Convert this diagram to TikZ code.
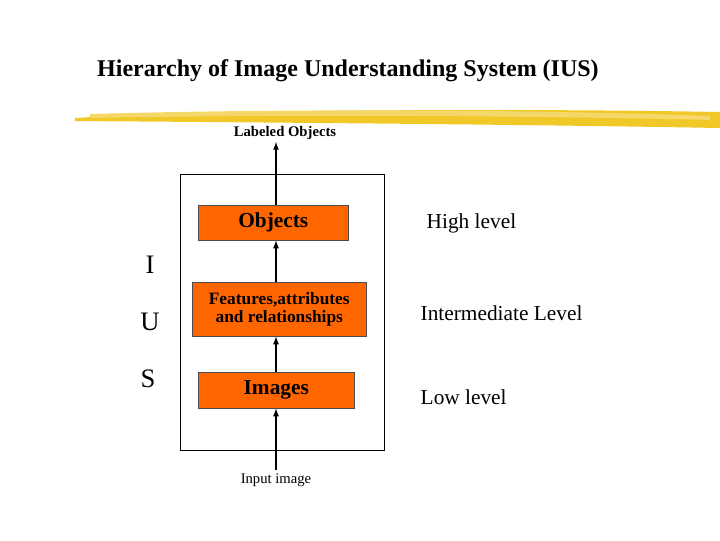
\documentclass[tikz,border=0pt]{standalone}
\usepackage{fontspec}
\setmainfont{Liberation Serif}
\definecolor{orng}{RGB}{255,102,0}
\definecolor{ylw}{RGB}{240,200,40}
\begin{document}
\begin{tikzpicture}[x=0.75pt,y=-0.75pt,
  lvl/.style={draw=black!70,fill=orng,inner sep=0pt,anchor=north west,font=\bfseries},
  side/.style={anchor=west,font=\fontsize{16}{18}\selectfont},
  ius/.style={font=\fontsize{20}{22}\selectfont},
  arr/.style={-latex,line width=1pt}]
\useasboundingbox (0,0) rectangle (720,540);
\node[font=\bfseries\fontsize{18}{20}\selectfont] (title) at (348,71) {Hierarchy of Image Understanding System (IUS)};
\fill[ylw] (75,118) .. controls (200,110) and (500,108) .. (720,112) -- (720,128) .. controls (500,124) and (200,122) .. (75,121) -- cycle;
\fill[ylw!70!white] (90,114) .. controls (300,108) and (550,110) .. (710,116) -- (710,120) .. controls (550,116) and (300,114) .. (90,118) -- cycle;
\node[draw,line width=0.6pt,minimum width=204*0.75pt,minimum height=276*0.75pt,anchor=north west] (outer) at (180,174) {};
\node[lvl,minimum width=150*0.75pt,minimum height=35*0.75pt,font=\bfseries\fontsize{16}{18}\selectfont] (obj) at (198,205) {Objects};
\node[lvl,minimum width=174*0.75pt,minimum height=54*0.75pt,align=center,font=\bfseries\fontsize{13}{14}\selectfont] (feat) at (192,282) {Features,attributes\\and relationships};
\node[lvl,minimum width=156*0.75pt,minimum height=36*0.75pt,font=\bfseries\fontsize{16}{18}\selectfont] (img) at (198,372) {Images};
\node[font=\bfseries\fontsize{11}{12}\selectfont] (lab) at (285,133) {Labeled Objects};
\node[font=\fontsize{11}{12}\selectfont] (inp) at (276,480) {Input image};
\coordinate (inbot) at (276,470);
\coordinate (labtop) at (276,142);
\draw[arr] (inbot) -- (img.south -| inbot);
\draw[arr] (img.north -| inbot) -- (feat.south -| inbot);
\draw[arr] (feat.north -| inbot) -- (obj.south -| inbot);
\draw[arr] (obj.north -| inbot) -- (labtop);
\node[side] (hl) at (422,223) {High level};
\node[side] (il) at (416,313) {Intermediate Level};
\node[side] (ll) at (416,397) {Low level};
\node[ius] (i) at (150,265) {I};
\node[ius] (u) at (150,322) {U};
\node[ius] (s) at (148,379) {S};
\end{tikzpicture}
\end{document}
